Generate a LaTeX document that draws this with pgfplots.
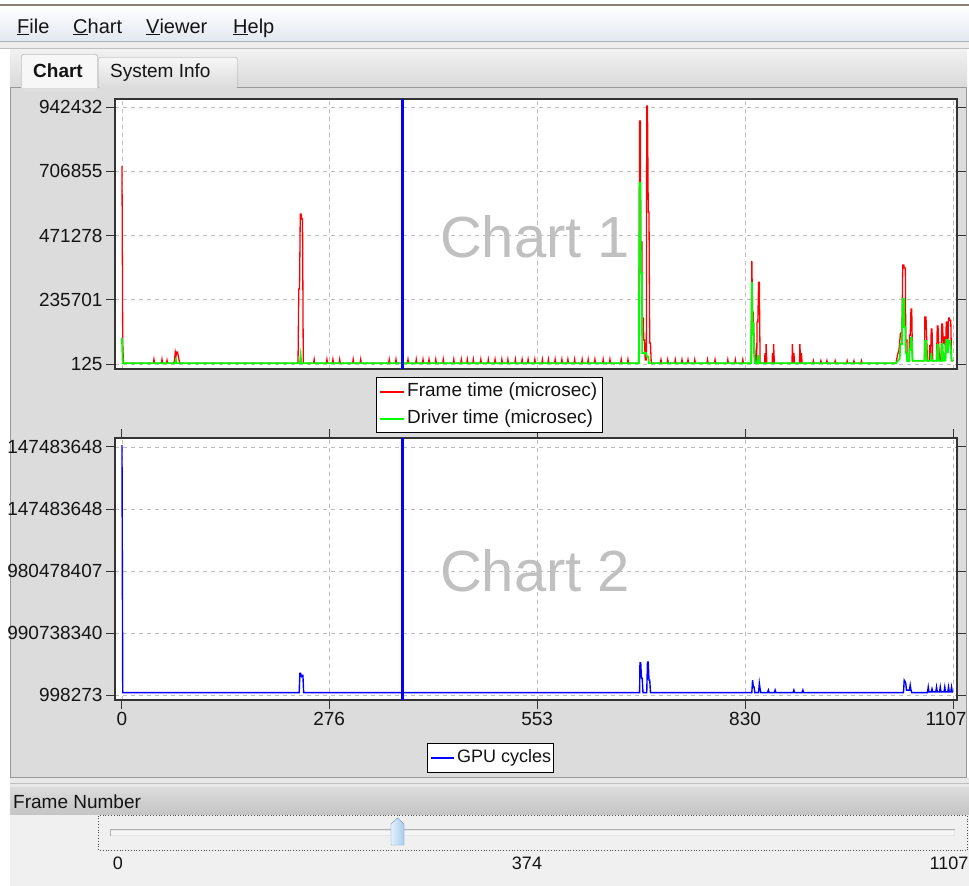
\documentclass[border=0pt]{standalone}
\usepackage{fontspec}
\setmainfont{Liberation Sans}
\usepackage{pgfplots}
\pgfplotsset{compat=1.18}
\definecolor{panel}{RGB}{220,220,220}
\definecolor{winline}{RGB}{140,128,118}
\definecolor{menubot}{RGB}{226,232,241}
\definecolor{bandtop}{RGB}{220,220,220}
\definecolor{bandbot}{RGB}{196,196,196}
\definecolor{slbg}{RGB}{240,240,240}
\definecolor{gridc}{RGB}{190,190,190}
\definecolor{wm}{RGB}{192,192,192}
\definecolor{handle1}{RGB}{226,240,251}
\definecolor{handle2}{RGB}{168,206,238}
\definecolor{handleb}{RGB}{110,145,180}
\definecolor{fg}{RGB}{20,20,20}
\definecolor{pred}{RGB}{255,0,0}
\definecolor{pgreen}{RGB}{0,255,0}
\definecolor{pblue}{RGB}{0,0,255}
\pgfplotsset{
  chartbase/.style={
    scale only axis, width=842pt,
    xmin=-9.3, xmax=1112.3,
    axis background/.style={fill=white},
    xtick={0,276,553,830,1107},
    grid=major,
    major grid style={dash pattern=on 4pt off 4pt, color=gridc, line width=0.9pt},
    axis line style={black!80, line width=1.5pt},
    tick align=outside, major tick length=9pt,
    tick style={black!80, line width=1pt},
    ticklabel style={font=\fontsize{19}{19}\selectfont, text=fg},
    scaled y ticks=false,
  }
}
\begin{document}
\begin{tikzpicture}
\useasboundingbox (0pt,0pt) rectangle (969pt,-886pt);
\clip (0pt,0pt) rectangle (969pt,-886pt);
\begin{scope}[x=1pt,y=-1pt]
  \fill[white] (0,0) rectangle (969,886);
  \fill[winline] (0,4) rectangle (969,6);
  \shade[top color=white, bottom color=menubot] (0,6) rectangle (969,41);
  \fill[black!30] (0,41) rectangle (969,42);
  \fill[black!7] (0,42) rectangle (969,48);
  \shade[top color=black!5, bottom color=black!15] (10,48) rectangle (967,88);
  \draw[black!25] (0,48.5) -- (969,48.5);
  % pane
  \fill[panel] (10,87) rectangle (967,778);
  \draw[black!40, line width=1pt] (10.5,87.5) rectangle (966.5,777.5);
  % inactive tab
  \shade[top color=black!3, bottom color=black!14, rounded corners=2pt] (98,57) rectangle (238,88);
  \draw[black!40, rounded corners=2pt] (98.5,88) -- (98.5,57.5) -- (237.5,57.5) -- (237.5,88);
  % active tab
  \fill[black!3, rounded corners=2pt] (21,54) rectangle (98,90);
  \fill[panel] (21,88) rectangle (98,90);
  \draw[black!45, rounded corners=2pt] (21.5,88) -- (21.5,54.5) -- (97.5,54.5) -- (97.5,88);
  \node[anchor=base west, inner sep=0pt, text=fg, font=\fontsize{19}{22}\selectfont\bfseries] at (33,77) {Chart};
  \node[anchor=base west, inner sep=0pt, text=fg, font=\fontsize{19}{22}\selectfont] at (110,77) {System Info};
  % menu
  \node[anchor=base west, inner sep=0pt, text=fg, font=\fontsize{20}{22}\selectfont] at (17,33) {\underline{F}ile};
  \node[anchor=base west, inner sep=0pt, text=fg, font=\fontsize{20}{22}\selectfont] at (73,33) {\underline{C}hart};
  \node[anchor=base west, inner sep=0pt, text=fg, font=\fontsize{20}{22}\selectfont] at (146,33) {\underline{V}iewer};
  \node[anchor=base west, inner sep=0pt, text=fg, font=\fontsize{20}{22}\selectfont] at (233,33) {\underline{H}elp};
  % lower area
  \fill[black!9] (10,778) rectangle (969,787);
  \draw[black!25] (10,783.5) -- (969,783.5);
  \shade[top color=bandtop, bottom color=bandbot] (10,787) rectangle (969,815);
  \node[anchor=base west, inner sep=0pt, text=fg, font=\fontsize{19}{22}\selectfont] at (13,808) {Frame Number};
  \fill[slbg] (10,815) rectangle (969,886);
  \draw[black!70, dotted, line width=0.8pt] (98.5,815.5) rectangle (967.5,850.5);
  \fill[black!10] (110,829) rectangle (955,836);
  \fill[black!4] (111,831) rectangle (954,835);
  \draw[black!30] (110.5,836) -- (110.5,829.5) -- (955,829.5);
  \shade[left color=handle1, right color=handle2] (391,845) -- (391,824) -- (397.5,818) -- (404,824) -- (404,845) -- cycle;
  \draw[handleb] (391,845) -- (391,824) -- (397.5,818) -- (404,824) -- (404,845) -- cycle;
  \node[inner sep=0pt, text=fg, font=\fontsize{18}{20}\selectfont] at (118,863) {0};
  \node[inner sep=0pt, text=fg, font=\fontsize{18}{20}\selectfont] at (527,863) {374};
  \node[inner sep=0pt, text=fg, font=\fontsize{18}{20}\selectfont] at (949,863) {1107};
\end{scope}

% ---------------- Chart 1 ----------------
\begin{axis}[chartbase,
  at={(115pt,-99pt)}, anchor=north west, height=270pt,
  ymin=-18208, ymax=971765,
  xticklabels={}, xmajorticks=false,
  ytick={125,235701,471278,706855,942432},
  yticklabels={125,235701,471278,706855,942432},
]
\addplot[color=pred, line width=1.3pt] coordinates {
(0,726000)(1,77000)(2,3000)
(41.8,3000)(42.6,17000)(43.4,3000)
(52.5,3000)(53.3,17000)(54.1,3000)
(59.2,3000)(60,14000)(60.8,3000)
(69,3000)(70,15000)(71,44000)(72,30000)(73,44000)(74,44000)(75,30000)(76,15000)(77,3000)
(234.5,3000)(235.5,275000)(236.5,275000)(237.5,550000)(238.5,550000)(239.5,532000)(240.5,532000)(241.5,3000)
(255.2,3000)(256,17000)(256.8,3000)
(272.2,3000)(273,17000)(273.8,3000)
(280.2,3000)(281,17000)(281.8,3000)
(289.2,3000)(290,17000)(290.8,3000)
(307.2,3000)(308,17000)(308.8,3000)
(317.2,3000)(318,17000)(318.8,3000)
(355.2,3000)(356,17000)(356.8,3000)
(364.2,3000)(365,17000)(365.8,3000)
(380.2,3000)(381,17000)(381.8,3000)
(391.2,3000)(392,17000)(392.8,3000)
(400.2,3000)(401,17000)(401.8,3000)
(408.2,3000)(409,17000)(409.8,3000)
(417.2,3000)(418,17000)(418.8,3000)
(427.2,3000)(428,17000)(428.8,3000)
(441.2,3000)(442,17000)(442.8,3000)
(451.2,3000)(452,17000)(452.8,3000)
(459.2,3000)(460,17000)(460.8,3000)
(467.2,3000)(468,17000)(468.8,3000)
(477.2,3000)(478,17000)(478.8,3000)
(487.2,3000)(488,17000)(488.8,3000)
(496.2,3000)(497,17000)(497.8,3000)
(505.2,3000)(506,17000)(506.8,3000)
(513.2,3000)(514,17000)(514.8,3000)
(523.2,3000)(524,17000)(524.8,3000)
(532.2,3000)(533,17000)(533.8,3000)
(540.2,3000)(541,17000)(541.8,3000)
(549.2,3000)(550,17000)(550.8,3000)
(559.2,3000)(560,17000)(560.8,3000)
(567.2,3000)(568,17000)(568.8,3000)
(576.2,3000)(577,17000)(577.8,3000)
(585.2,3000)(586,17000)(586.8,3000)
(593.2,3000)(594,17000)(594.8,3000)
(602.2,3000)(603,17000)(603.8,3000)
(612.2,3000)(613,17000)(613.8,3000)
(620.2,3000)(621,17000)(621.8,3000)
(629.2,3000)(630,17000)(630.8,3000)
(640.2,3000)(641,17000)(641.8,3000)
(649.2,3000)(650,17000)(650.8,3000)
(664.2,3000)(665,17000)(665.8,3000)
(673.2,3000)(674,17000)(674.8,3000)
(688.5,3000)(689.5,891000)(690.5,891000)(691,447000)(692.5,447000)(693,169000)(694.5,169000)(695,88000)(696,88000)(697,15000)(698.5,15000)(699,946000)(700,946000)(701,557000)(702,557000)(703,77000)(704,77000)(705,3000)
(717.2,3000)(718,16000)(718.8,3000)
(726.2,3000)(727,16000)(727.8,3000)
(736.2,3000)(737,16000)(737.8,3000)
(745.2,3000)(746,16000)(746.8,3000)
(753.2,3000)(754,16000)(754.8,3000)
(762.2,3000)(763,16000)(763.8,3000)
(779.2,3000)(780,16000)(780.8,3000)
(789.2,3000)(790,16000)(790.8,3000)
(806.2,3000)(807,16000)(807.8,3000)
(816.2,3000)(817,16000)(817.8,3000)
(826.2,3000)(827,16000)(827.8,3000)
(838,3000)(839,378000)(840,190000)(841,190000)(842,77000)(843,51000)(844,3000)(845.5,3000)(846,154000)(847,154000)(848,300000)(849,300000)(850,3000)
(856,3000)(856.5,40000)(857.5,3000)(858,73000)(859,3000)
(866,3000)(866.5,40000)(867.5,3000)(868,73000)(869,3000)
(892.5,3000)(893,73000)(894,3000)(895,40000)(896,3000)
(902.5,3000)(903,73000)(904,3000)(905,40000)(906,3000)
(920.2,3000)(921,12000)(921.8,3000)
(930.2,3000)(931,12000)(931.8,3000)
(938.2,3000)(939,12000)(939.8,3000)
(949.2,3000)(950,12000)(950.8,3000)
(965.2,3000)(966,12000)(966.8,3000)
(974.2,3000)(975,12000)(975.8,3000)
(984.2,3000)(985,12000)(985.8,3000)
(1031,3000)(1033,33000)(1035,52000)(1037,114000)(1039,114000)(1040,363000)(1041.5,363000)(1042,352000)(1043.5,352000)(1044,88000)(1045.5,88000)(1046,10000)(1048.5,10000)(1049,106000)(1050,106000)(1051,202000)(1052,202000)(1053,12000)
(1069,12000)(1069.5,172000)(1071,172000)(1072,84000)(1073,12000)(1075.5,12000)(1076,70000)(1077,12000)(1078,128000)(1079,128000)(1080,12000)(1085,12000)(1086,139000)(1087,139000)(1088,66000)(1089,12000)(1091,12000)(1092,147000)(1093,147000)(1094,73000)(1095,99000)(1096,99000)(1097,40000)(1098,154000)(1099,154000)(1100,40000)(1101,169000)(1102,169000)(1103,160000)(1104,160000)(1105,12000)(1107,12000)
};
\addplot[color=pgreen, line width=1.8pt] coordinates {
(0,95000)(1,3000)
(71,3000)(72,15000)(73,3000)
(237,3000)(238,30000)(239,3000)
(688.5,3000)(689.5,664000)(690.5,664000)(691,334000)(692.5,334000)(693,40000)(698,40000)(699,28000)(701,28000)(702,3000)
(838,3000)(839,300000)(840,150000)(841,150000)(842,40000)(843,3000)(846,3000)(847,30000)(848,30000)(849,3000)
(1031,3000)(1036,20000)(1037,73000)(1039,73000)(1040,238000)(1041.5,238000)(1042,136000)(1043.5,136000)(1044,40000)(1045.5,40000)(1046,10000)(1048.5,10000)(1049,51000)(1050,51000)(1051,95000)(1052,95000)(1053,12000)
(1069,12000)(1069.5,84000)(1071,84000)(1072,12000)(1077.5,12000)(1078,40000)(1079,12000)(1085.5,12000)(1086,70000)(1087,70000)(1088,12000)(1091.5,12000)(1092,73000)(1093,73000)(1094,12000)(1095.5,12000)(1096,40000)(1097,12000)(1098,88000)(1099,88000)(1100,40000)(1101,84000)(1103,84000)(1104,60000)(1105,12000)(1107,12000)
};
\addplot[color=pblue, line width=3pt] coordinates {(374,-18208) (374,971765)};
\node[font=\fontsize{58}{58}\selectfont, text=wm, inner sep=0pt] at (rel axis cs:0.499,0.489) {Chart 1};
\end{axis}

% ---------------- Chart 2 ----------------
\begin{axis}[chartbase,
  at={(115pt,-438pt)}, anchor=north west, height=262pt,
  ymin=-0.08, ymax=4.145,
  xticklabels={0,276,553,830,{1107\kern14pt}},
  ytick={0,1,2,3,4},
  yticklabels={998273,990738340,980478407,147483648,147483648},
]
\addplot[color=pblue, line width=1.4pt] coordinates {
(0,4.03)(1,0.04)(236,0.04)(237,0.35)(238,0.35)(239,0.30)(240,0.32)(241,0.32)(242,0.04)
(689.5,0.04)(690,0.52)(691,0.52)(692,0.27)(693,0.27)(694,0.04)(699,0.04)(700,0.53)(701,0.53)(702,0.24)(703,0.24)(704,0.04)
(839,0.04)(840,0.24)(841,0.13)(842,0.13)(843,0.04)(848,0.04)(849,0.19)(850,0.10)(851,0.04)(860,0.04)(861,0.08)(862,0.04)(869,0.04)(870,0.08)(871,0.04)(894,0.04)(895,0.08)(896,0.04)(906,0.04)(907,0.08)(908,0.04)
(1041,0.04)(1042,0.24)(1043,0.22)(1044,0.19)(1045,0.08)(1049,0.08)(1050,0.16)(1051,0.08)(1052,0.04)
(1073,0.04)(1074,0.13)(1075,0.05)(1078,0.05)(1079,0.10)(1080,0.05)(1084,0.05)(1085,0.13)(1086,0.05)(1089,0.05)(1090,0.13)(1091,0.05)(1095,0.05)(1096,0.13)(1097,0.05)(1100,0.05)(1101,0.13)(1102,0.05)(1104,0.05)(1105,0.13)(1106,0.05)(1107,0.05)
};
\addplot[color=pblue, line width=3pt] coordinates {(374,-0.08) (374,4.145)};
\node[font=\fontsize{58}{58}\selectfont, text=wm, inner sep=0pt] at (rel axis cs:0.499,0.492) {Chart 2};
\end{axis}

% ---------------- legends ----------------
\begin{scope}[x=1pt,y=-1pt]
  \draw[black, fill=white, line width=0.8pt] (376.5,377.5) rectangle (602.5,432.5);
  \node[anchor=west, inner sep=0pt, text=fg, font=\fontsize{19}{19}\selectfont] at (407,392) {Frame time (microsec)};
  \node[anchor=west, inner sep=0pt, text=fg, font=\fontsize{19}{19}\selectfont] at (407,419) {Driver time (microsec)};
  \fill[pred] (380,391) rectangle (404,393);
  \fill[pgreen] (380,418) rectangle (404,420);
  \draw[black, fill=white, line width=0.8pt] (427.5,743.5) rectangle (553.5,772.5);
  \node[anchor=west, inner sep=0pt, text=fg, font=\fontsize{18}{18}\selectfont] at (457,758) {GPU cycles};
  \fill[pblue] (431,757) rectangle (454,759);
\end{scope}
\end{tikzpicture}
\end{document}
